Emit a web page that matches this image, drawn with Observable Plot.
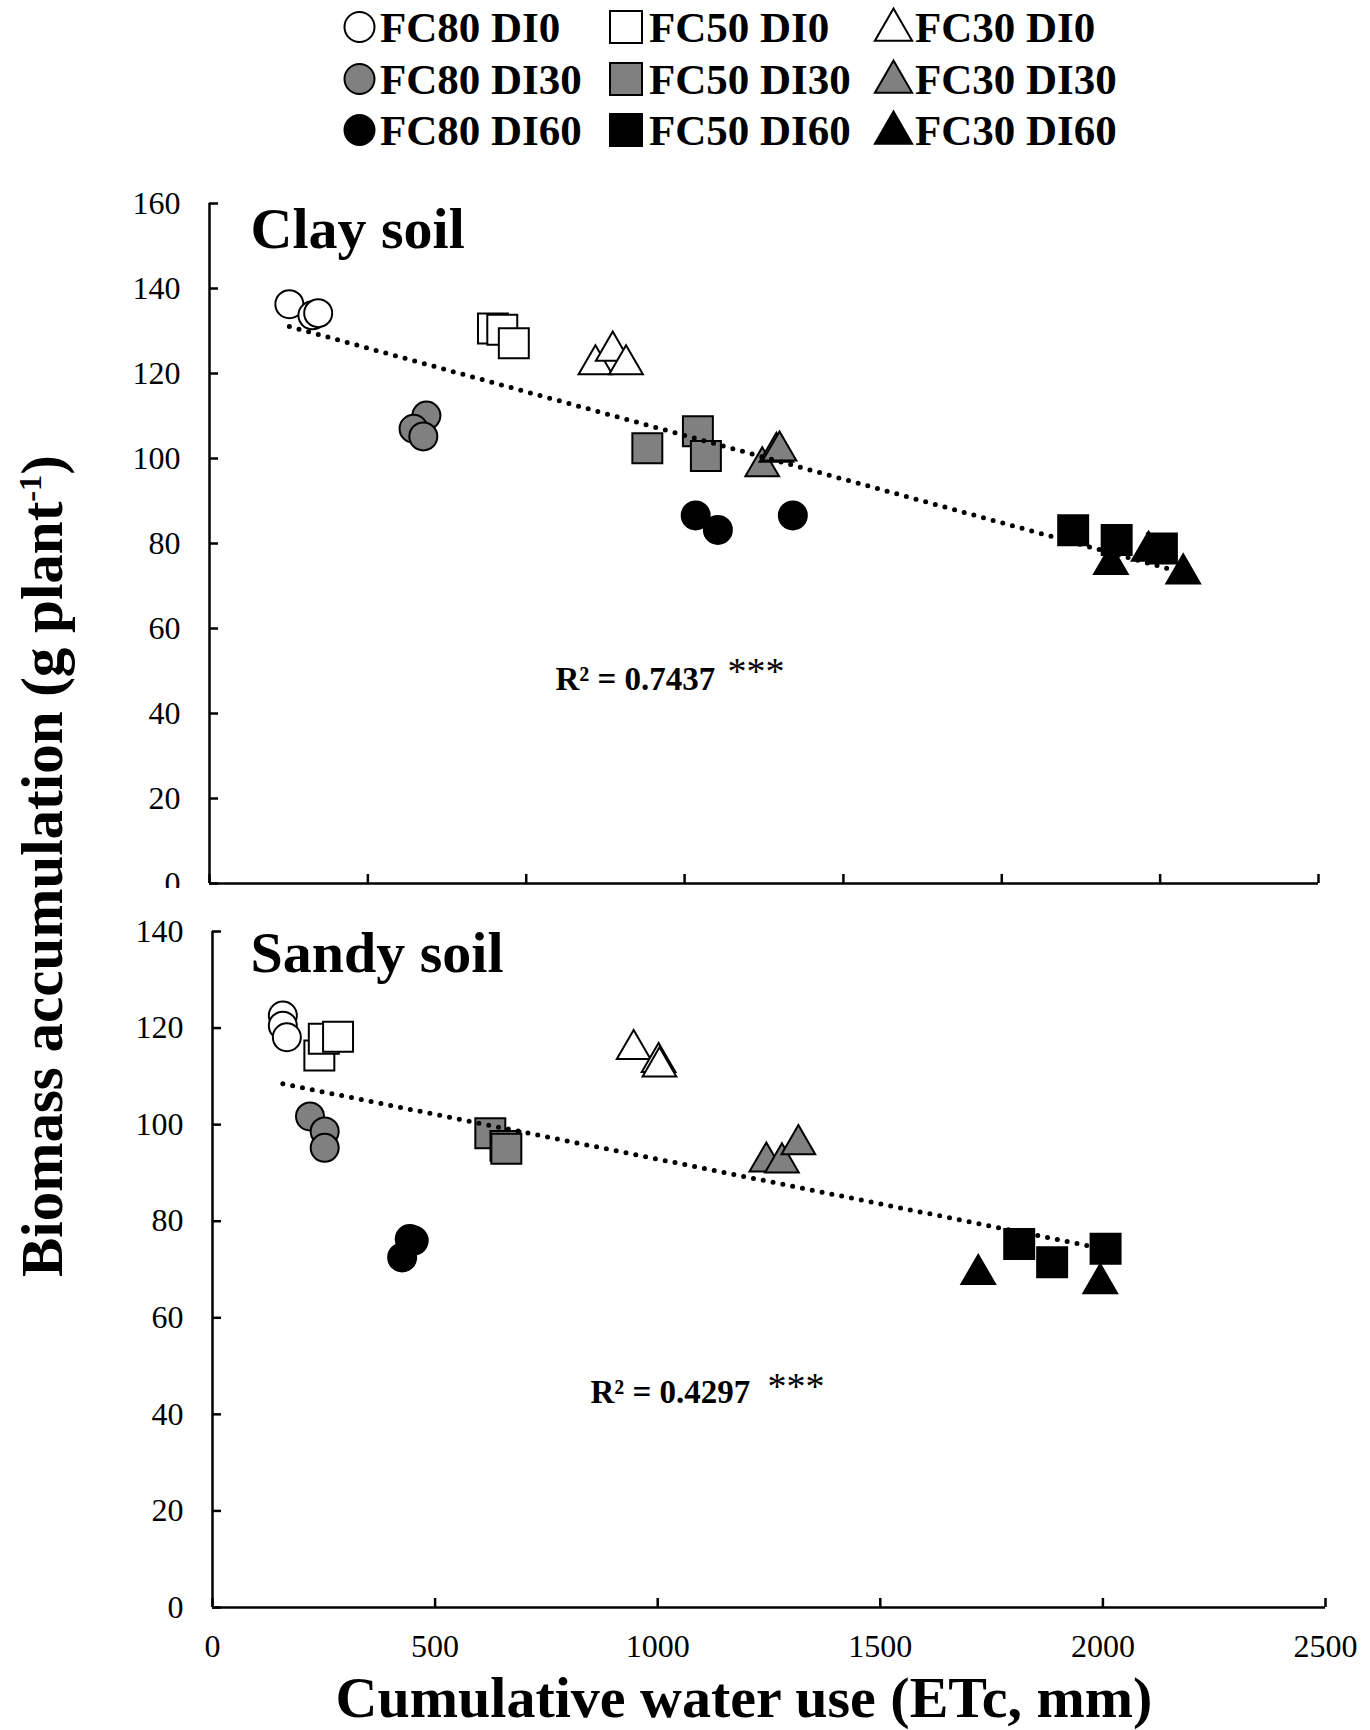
<!DOCTYPE html>
<html>
<head>
<meta charset="utf-8">
<script src="https://cdn.jsdelivr.net/npm/d3@7"></script>
<script src="https://cdn.jsdelivr.net/npm/@observablehq/plot@0.6"></script>
<style>
  body { margin: 0; background: #ffffff; }
  #wrap { position: relative; width: 1370px; height: 1730px; background: #ffffff; overflow: hidden;
          font-family: "Liberation Serif", "Times New Roman", serif; color: #000; }
  .abs { position: absolute; }
  .axtitle { position: absolute; font-weight: bold; font-size: 58px; line-height: 1; white-space: nowrap; }
</style>
</head>
<body>
<div id="wrap"></div>
<script>
// ---------------- DATA ----------------
const fcLevels = ["FC80", "FC50", "FC30"];
const diLevels = ["DI0", "DI30", "DI60"];
const diFills  = ["#ffffff", "#808080", "#000000"];

// Clay soil
const clayTreatment = [
  "FC80 DI0","FC80 DI0","FC80 DI0",
  "FC80 DI30","FC80 DI30","FC80 DI30",
  "FC80 DI60","FC80 DI60","FC80 DI60",
  "FC50 DI0","FC50 DI0","FC50 DI0",
  "FC50 DI30","FC50 DI30","FC50 DI30",
  "FC50 DI60","FC50 DI60","FC50 DI60",
  "FC30 DI0","FC30 DI0","FC30 DI0",
  "FC30 DI30","FC30 DI30","FC30 DI30",
  "FC30 DI60","FC30 DI60","FC30 DI60"
];
const clayETc = [
  180, 232, 245,
  489, 460, 482,
  1096, 1146, 1315,
  639, 660, 686,
  987, 1101, 1119,
  1947, 2045, 2147,
  870, 909, 939,
  1246, 1278, 1285,
  2032, 2117, 2195
];
const clayBiomass = [
  136.3, 133.7, 134.2,
  110.1, 107.0, 105.2,
  86.6, 83.2, 86.6,
  130.6, 130.3, 127.1,
  102.4, 106.4, 100.6,
  83.1, 80.8, 78.8,
  122.1, 125.3, 122.1,
  98.1, 101.5, 101.8,
  75.1, 78.2, 72.9
];

// Sandy soil
const sandyTreatment = [
  "FC80 DI0","FC80 DI0","FC80 DI0",
  "FC80 DI30","FC80 DI30","FC80 DI30",
  "FC80 DI60","FC80 DI60","FC80 DI60",
  "FC50 DI0","FC50 DI0","FC50 DI0",
  "FC50 DI30","FC50 DI30","FC50 DI30",
  "FC50 DI60","FC50 DI60","FC50 DI60",
  "FC30 DI0","FC30 DI0","FC30 DI0",
  "FC30 DI30","FC30 DI30","FC30 DI30",
  "FC30 DI60","FC30 DI60"
];
const sandyETc = [
  158, 158, 167,
  219, 252, 252,
  426, 443, 452,
  240, 250, 282,
  624, 658, 660,
  1812, 1886, 2006,
  946, 1002, 1004,
  1244, 1279, 1316,
  1720, 1994
];
const sandyBiomass = [
  122.6, 120.5, 118.1,
  101.7, 98.6, 95.2,
  72.5, 76.3, 76.0,
  114.3, 117.8, 118.2,
  98.2, 95.6, 95.0,
  75.3, 71.5, 74.3,
  115.6, 112.9, 112.0,
  92.3, 92.1, 95.9,
  69.0, 67.1
];

const clayYTicks  = [0, 20, 40, 60, 80, 100, 120, 140, 160];
const sandyYTicks = [0, 20, 40, 60, 80, 100, 120, 140];
const clayXTicks  = [0, 357, 714, 1071, 1429, 1786, 2143, 2500];
const sandyXTicks = [0, 500, 1000, 1500, 2000, 2500];

const clayTitle = "Clay soil", sandyTitle = "Sandy soil";
const clayR2 = "R² = 0.7437", sandyR2 = "R² = 0.4297", signif = "***";
const xTitle = "Cumulative water use (ETc, mm)";
const yTitleMain = "Biomass accumulation (g plant", yTitleSup = "-1", yTitleEnd = ")";

// ---------------- BUILD ----------------
const FONT = "Liberation Serif, Times New Roman, serif";
const wrap = document.getElementById("wrap");

function rows(tr, xs, ys) {
  return tr.map((t, i) => {
    const [fc, di] = t.split(" ");
    return {fc, di, etc: xs[i], bio: ys[i]};
  });
}
const clayData = rows(clayTreatment, clayETc, clayBiomass);
const sandyData = rows(sandyTreatment, sandyETc, sandyBiomass);

const shapeOf = {FC80: "circle", FC50: "square", FC30: "triangle"};
const rOf = {circle: 14, square: 16.9, triangle: 12.5};
const plainNum = d => String(d);

function panel(o) {
  const marks = [
    Plot.ruleX([0], {stroke: "black", strokeWidth: 2.5}),
    Plot.ruleY([0], {stroke: "black", strokeWidth: 2.5}),
    Plot.axisY({ticks: o.yTicks, tickSize: 9, dx: 9, tickFormat: () => "", strokeWidth: 2.5, label: null}),
    Plot.axisY({ticks: o.yTicks, tickSize: 0, tickPadding: 29, tickFormat: plainNum,
                fontSize: 32, fontFamily: FONT, label: null}),
    Plot.axisX({ticks: o.xTicks, tickSize: 9, dy: -9, tickFormat: () => "", strokeWidth: 2.5, label: null})
  ];
  if (o.xLabels) marks.push(Plot.axisX({ticks: o.xTicks, tickSize: 0, tickPadding: 27, tickFormat: plainNum,
                                        fontSize: 32, fontFamily: FONT, label: null}));
  for (const fc of fcLevels) {
    const sym = shapeOf[fc];
    marks.push(Plot.dot(o.data.filter(d => d.fc === fc), {
      x: "etc", y: "bio", fill: "di", symbol: sym, r: rOf[sym],
      stroke: "black", strokeWidth: 2, strokeLinejoin: "miter"
    }));
  }
  marks.push(Plot.linearRegressionY(o.data, {
    x: "etc", y: "bio", ci: 0, stroke: "black", strokeWidth: 5,
    strokeDasharray: "0 10", strokeLinecap: "round"
  }));
  marks.push(Plot.text([o.title], {text: d => d, frameAnchor: "top-left", dx: o.titleDx, dy: o.titleDy,
    lineAnchor: "bottom", textAnchor: "start", fontSize: 58, fontWeight: "bold", fontFamily: FONT}));
  marks.push(Plot.text([o.r2], {text: d => d, frameAnchor: "top-left", dx: o.r2Dx, dy: o.r2Dy,
    lineAnchor: "bottom", textAnchor: "start", fontSize: 33, fontWeight: "bold", fontFamily: FONT}));
  marks.push(Plot.text([signif], {text: d => d, frameAnchor: "top-left", dx: o.starDx, dy: o.starDy,
    lineAnchor: "top", textAnchor: "start", fontSize: 38, fontWeight: "normal", fontFamily: FONT}));

  const svg = Plot.plot({
    width: 1370,
    height: o.height,
    marginLeft: o.marginLeft, marginRight: o.marginRight,
    marginTop: o.marginTop, marginBottom: o.marginBottom,
    style: {fontFamily: FONT, fontSize: "32px", color: "black", background: "transparent", overflow: "hidden"},
    x: {domain: [0, 2500], label: null},
    y: {domain: [0, o.yMax], label: null},
    color: {domain: diLevels, range: diFills},
    marks
  });
  svg.classList.add("abs");
  svg.style.left = "0px";
  svg.style.top = o.top + "px";
  wrap.appendChild(svg);
}

panel({
  data: clayData, yMax: 160, yTicks: clayYTicks, xTicks: clayXTicks, xLabels: false,
  top: 160, height: 728, marginLeft: 209, marginRight: 52, marginTop: 43, marginBottom: 5,
  title: clayTitle, titleDx: 41, titleDy: 44,
  r2: clayR2, r2Dx: 346, r2Dy: 486, starDx: 518, starDy: 454
});
panel({
  data: sandyData, yMax: 140, yTicks: sandyYTicks, xTicks: sandyXTicks, xLabels: true,
  top: 888, height: 781, marginLeft: 212, marginRight: 45, marginTop: 43, marginBottom: 62,
  title: sandyTitle, titleDx: 38, titleDy: 40,
  r2: sandyR2, r2Dx: 378, r2Dy: 471, starDx: 555, starDy: 441
});

// Legend
const leg = d3.select(wrap).append("svg").attr("class", "abs")
  .style("left", "0px").style("top", "0px").attr("width", 1370).attr("height", 160);
const colSym = [359.5, 626, 893.5], colText = [380, 649, 915], rowY = [27, 79, 130];
const legSym = {
  circle: d3.symbol(d3.symbolCircle, Math.PI * 15 * 15),
  square: d3.symbol(d3.symbolSquare, 32 * 32),
  triangle: d3.symbol(d3.symbolTriangle, 600)
};
fcLevels.forEach((fc, c) => {
  diLevels.forEach((di, r) => {
    const sym = shapeOf[fc];
    leg.append("path").attr("d", legSym[sym]())
      .attr("transform", `translate(${colSym[c]},${rowY[r] + (sym === "triangle" ? 3 : 0)})`)
      .attr("fill", diFills[r]).attr("stroke", "black").attr("stroke-width", 2);
    leg.append("text").attr("x", colText[c]).attr("y", rowY[r] + 14.5)
      .attr("font-family", FONT).attr("font-size", 43).attr("font-weight", "bold")
      .attr("fill", "black").text(fc + " " + di);
  });
});

// Axis titles
const xt = document.createElement("div");
xt.className = "axtitle";
xt.textContent = xTitle;
xt.style.left = "744px";
xt.style.top = "1669px";
xt.style.transform = "translateX(-50%)";
wrap.appendChild(xt);

const yt = document.createElement("div");
yt.className = "axtitle";
yt.style.fontSize = "59px";
yt.appendChild(document.createTextNode(yTitleMain));
const sup = document.createElement("sup");
sup.style.fontSize = "0.55em";
sup.textContent = yTitleSup;
yt.appendChild(sup);
yt.appendChild(document.createTextNode(yTitleEnd));
yt.style.left = "42px";
yt.style.top = "866px";
yt.style.transform = "translate(-50%, -50%) rotate(-90deg)";
wrap.appendChild(yt);
</script>
</body>
</html>
